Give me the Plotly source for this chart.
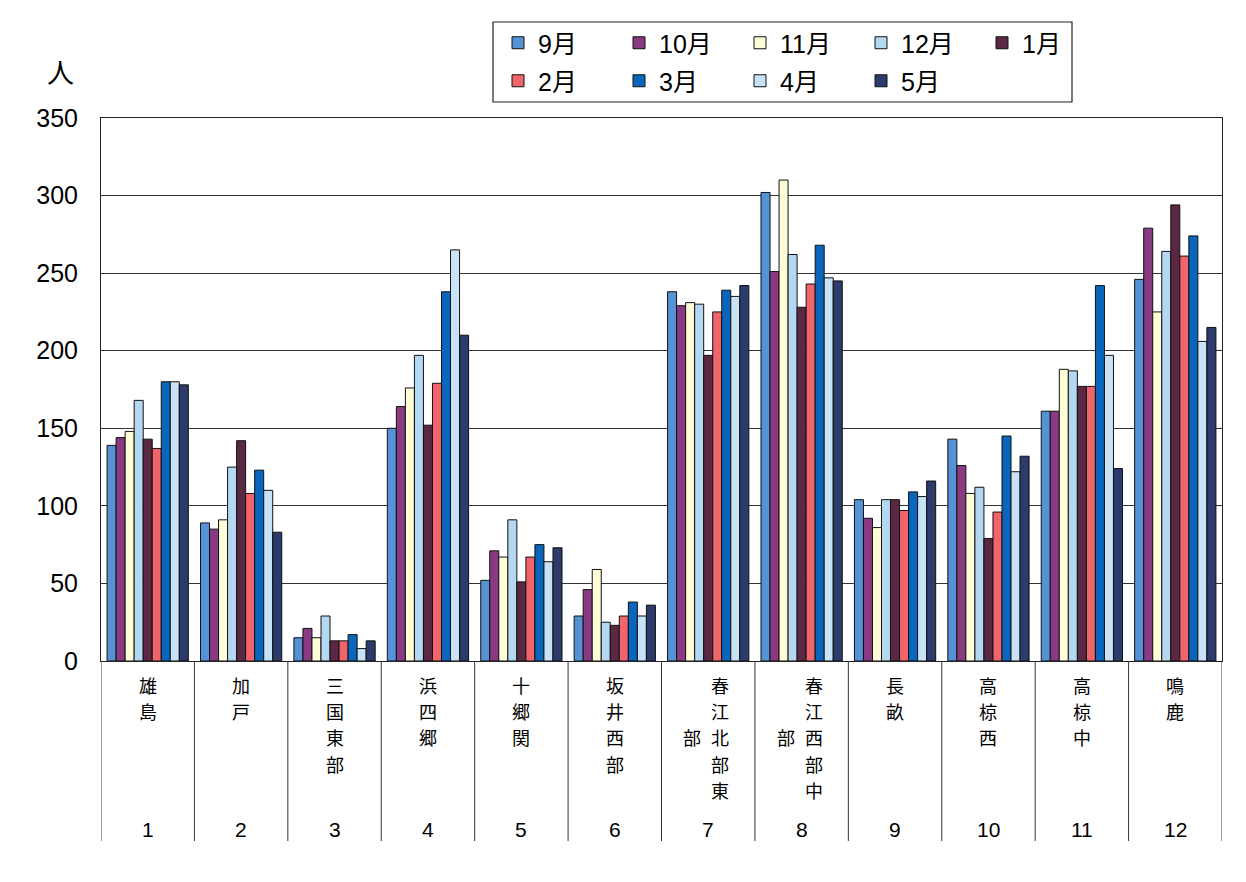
import plotly.graph_objects as go

# ---- data ----
areas = ["雄島", "加戸", "三国東部", "浜四郷", "十郷関", "坂井西部",
         "春江北部東部", "春江西部中部", "長畝", "高椋西", "高椋中", "鳴鹿"]
area_nos = ["1", "2", "3", "4", "5", "6", "7", "8", "9", "10", "11", "12"]
months = ["9月", "10月", "11月", "12月", "1月", "2月", "3月", "4月", "5月"]

m9 = [139, 89, 15, 150, 52, 29, 238, 302, 104, 143, 161, 246]
m10 = [144, 85, 21, 164, 71, 46, 229, 251, 92, 126, 161, 279]
m11 = [148, 91, 15, 176, 67, 59, 231, 310, 86, 108, 188, 225]
m12 = [168, 125, 29, 197, 91, 25, 230, 262, 104, 112, 187, 264]
m1 = [143, 142, 13, 152, 51, 23, 197, 228, 104, 79, 177, 294]
m2 = [137, 108, 13, 179, 67, 29, 225, 243, 97, 96, 177, 261]
m3 = [180, 123, 17, 238, 75, 38, 239, 268, 109, 145, 242, 274]
m4 = [180, 110, 8, 265, 64, 29, 235, 247, 106, 122, 197, 206]
m5 = [178, 83, 13, 210, 73, 36, 242, 245, 116, 132, 124, 215]
series = [m9, m10, m11, m12, m1, m2, m3, m4, m5]

colors = ["#5593D6", "#8A3A82", "#FFFDD8", "#B4D8F2", "#5A2842",
          "#F0646C", "#0A66BC", "#C8E2F8", "#2C3A6C"]

FONT = "Liberation Sans, Noto Sans CJK JP"
CJK = "Noto Sans CJK JP"

fig = go.Figure()
x_idx = list(range(len(areas)))
for i, (name, vals, col) in enumerate(zip(months, series, colors)):
    fig.add_trace(go.Bar(
        x=x_idx, y=vals, name=name,
        marker=dict(color=col, line=dict(color="#111111", width=1)),
        legend="legend" if i < 5 else "legend2",
    ))

# page offset (browser body margin)
OFF = 8
W, H = 1246 - OFF, 882 - OFF
PL, PR, PT, PB = 101, 1222, 118, 661   # plot box in screenshot pixels
L, R, T, B = PL - OFF, W - (PR - OFF), PT - OFF, H - (PB - OFF)
pw, ph = PR - PL, PB - PT

def px_x(px):
    return (px - PL) / pw

def px_y(py):
    return (PB - py) / ph

leg_common = dict(orientation="h", x=px_x(498), xanchor="left", yanchor="middle",
                  entrywidth=76, entrywidthmode="pixels",
                  font=dict(size=25, family=FONT),
                  bgcolor="rgba(0,0,0,0)", borderwidth=0, itemclick=False)

fig.update_layout(
    width=W, height=H,
    margin=dict(l=L, r=R, t=T, b=B),
    paper_bgcolor="white", plot_bgcolor="white",
    barmode="group", bargap=0.13, bargroupgap=0,
    font=dict(family=FONT, color="black"),
    showlegend=True,
    legend=dict(y=px_y(43), **leg_common),
    legend2=dict(y=px_y(81), **leg_common),
)

fig.update_xaxes(
    type="linear", range=[-0.5, len(areas) - 0.5],
    showticklabels=False, ticks="", showgrid=False, zeroline=False,
    showline=True, linecolor="#222222", linewidth=1, mirror=True,
)
fig.update_yaxes(
    range=[0, 350], dtick=50, tickfont=dict(size=25, family=FONT),
    showgrid=True, gridcolor="#333333", gridwidth=1, zeroline=False,
    showline=True, linecolor="#222222", linewidth=1, mirror=True,
    ticks="", ticklabelstandoff=17,
)

shapes = []
# legend frame
shapes.append(dict(type="rect", xref="paper", yref="paper",
                   x0=px_x(493), x1=px_x(1072), y0=px_y(102), y1=px_y(22),
                   line=dict(color="#222222", width=1.2), fillcolor="rgba(0,0,0,0)"))
# category divider lines in the label table
for k in range(len(areas) + 1):
    shapes.append(dict(type="line", xref="x", yref="paper",
                       x0=k - 0.5, x1=k - 0.5, y0=0, y1=px_y(841),
                       line=dict(color="#333333", width=1)))
fig.update_layout(shapes=shapes)

annotations = []
annotations.append(dict(text="人", xref="paper", yref="paper", x=px_x(60), y=px_y(71),
                        xanchor="center", yanchor="middle", showarrow=False,
                        font=dict(size=27, family=CJK)))
fs = 18
row0 = 685.0
row_h = 26.2
for k, (nm, no) in enumerate(zip(areas, area_nos)):
    main = nm[:5]
    extra = nm[5:]
    shift = 12 if extra else 0
    # vertical text: one character per row
    for r, ch in enumerate(main):
        annotations.append(dict(text=ch, xref="x", yref="paper", x=k,
                                y=px_y(row0 + r * row_h), xanchor="center", yanchor="middle",
                                xshift=shift, showarrow=False,
                                font=dict(size=fs, family=CJK)))
    for r, ch in enumerate(extra):
        annotations.append(dict(text=ch, xref="x", yref="paper", x=k,
                                y=px_y(row0 + (r + 2) * row_h), xanchor="center",
                                yanchor="middle", xshift=-16, showarrow=False,
                                font=dict(size=fs, family=CJK)))
    annotations.append(dict(text=no, xref="x", yref="paper", x=k, y=px_y(829),
                            xanchor="center", yanchor="middle", showarrow=False,
                            font=dict(size=21, family=FONT)))
fig.update_layout(annotations=annotations)

fig.write_html("out.html")
